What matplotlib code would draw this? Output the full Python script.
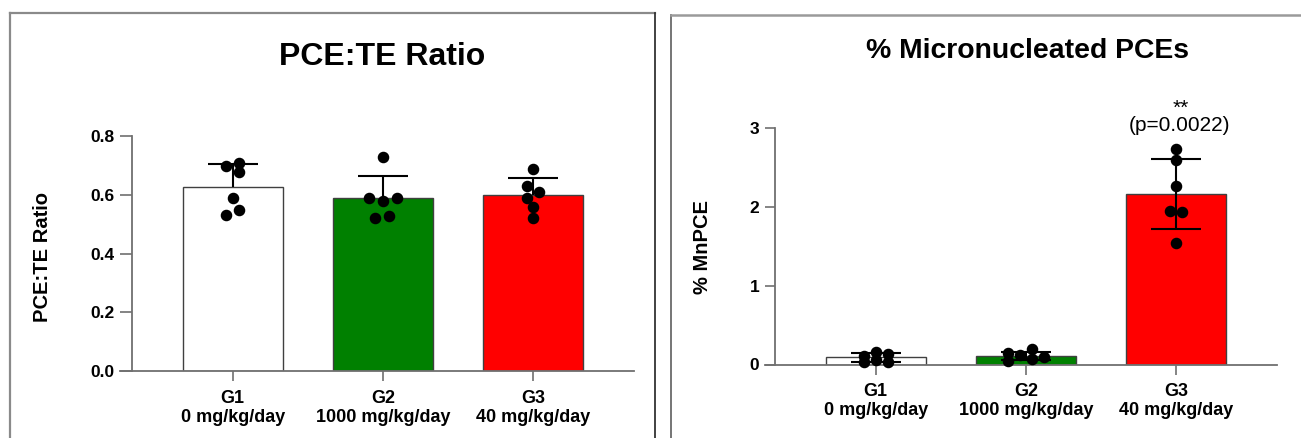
import matplotlib
matplotlib.use('Agg')
import matplotlib.pyplot as plt
import numpy as np
from matplotlib.lines import Line2D

plt.rcParams['font.family'] = ['Liberation Sans', 'DejaVu Sans']

W, H = 1301, 438

GROUPS = ['G1', 'G2', 'G3']
DOSES = ['0 mg/kg/day', '1000 mg/kg/day', '40 mg/kg/day']
BAR_COLORS = ['white', '#008000', '#ff0000']

# PCE:TE ratio, one value per animal
ratio_g1 = [0.698, 0.709, 0.677, 0.589, 0.549, 0.530]
ratio_g2 = [0.729, 0.589, 0.578, 0.589, 0.520, 0.528]
ratio_g3 = [0.689, 0.629, 0.610, 0.589, 0.559, 0.520]
ratio_mean = [0.625, 0.588, 0.598]
ratio_sd = [0.080, 0.076, 0.059]

# % MnPCE, one value per animal
mnpce_g1 = [0.114, 0.033, 0.159, 0.063, 0.130, 0.033]
mnpce_g2 = [0.142, 0.044, 0.116, 0.192, 0.066, 0.091]
mnpce_g3 = [2.727, 2.590, 2.263, 1.951, 1.934, 1.534]
mnpce_mean = [0.089, 0.105, 2.162]
mnpce_sd = [0.052, 0.053, 0.445]

# horizontal scatter of the dots (swarm layout)
ratio_offsets = [[-0.043, 0.043, 0.043, 0.0, 0.043, -0.043],
                 [0.0, -0.09, 0.0, 0.09, -0.05, 0.04],
                 [0.0, -0.045, 0.04, -0.045, 0.0, 0.0]]
mnpce_offsets = [[-0.08, -0.08, 0.0, 0.0, 0.08, 0.08],
                 [-0.117, -0.117, -0.04, 0.038, 0.038, 0.118],
                 [0.0, 0.0, 0.0, -0.04, 0.04, 0.0]]

AXIS_GRAY = '#707070'


def px_rect(left, bottom, width, height):
    return [left / W, 1 - bottom / H, width / W, height / H]


def draw_panel(ax, points, offsets, means, sds, ymax, yticks, ylabels,
               ylabel, label_x, label_y, upper_only, ylen, tick_ext):
    x = np.arange(len(GROUPS))
    ax.bar(x, means, width=0.665, color=BAR_COLORS, edgecolor='#404040',
           linewidth=1.0, zorder=2)
    if upper_only:
        yerr = [np.zeros(len(sds)), sds]
    else:
        yerr = sds
    eb = ax.errorbar(x, means, yerr=yerr, fmt='none', ecolor='black',
                     elinewidth=1.5, capsize=18, capthick=1.5, zorder=3,
                     clip_on=False)
    if upper_only:
        eb[1][0].set_visible(False)
    for i, vals in enumerate(points):
        ax.plot(x[i] + np.array(offsets[i]), vals, 'o', color='black',
                ms=7.3, zorder=4, clip_on=False)

    ax.set_xlim(-0.67, 2.67)
    ax.set_ylim(0, ymax)
    for s in ['top', 'right']:
        ax.spines[s].set_visible(False)
    for s in ['left', 'bottom']:
        ax.spines[s].set_color(AXIS_GRAY)
        ax.spines[s].set_linewidth(1.3)
    ax.spines['bottom'].set_bounds(-0.67 - tick_ext, 2.67)

    ax.set_yticks(yticks, ylabels, fontweight='bold', fontsize=12.5)
    ax.set_xticks(x, [f'{g}\n{d}' for g, d in zip(GROUPS, DOSES)],
                  fontweight='bold', fontsize=13, linespacing=1.15)
    ax.tick_params(axis='y', length=ylen, width=1.2, color=AXIS_GRAY, pad=4)
    ax.tick_params(axis='x', length=7.5, width=1.2, color=AXIS_GRAY, pad=6)

    ax.set_ylabel(ylabel, fontweight='bold', fontsize=14.5, va='center')
    ax.yaxis.set_label_coords(label_x, label_y)


fig = plt.figure(figsize=(W / 100, H / 100), dpi=100)

ax1 = fig.add_axes(px_rect(132, 371, 502, 235))
draw_panel(ax1, [ratio_g1, ratio_g2, ratio_g3], ratio_offsets,
           ratio_mean, ratio_sd, 0.8, [0.0, 0.2, 0.4, 0.6, 0.8],
           ['0.0', '0.2', '0.4', '0.6', '0.8'], 'PCE:TE Ratio',
           -0.179, 0.486, True, 8.4, 0.08)

ax2 = fig.add_axes(px_rect(775, 364.5, 502, 236.8))
draw_panel(ax2, [mnpce_g1, mnpce_g2, mnpce_g3], mnpce_offsets,
           mnpce_mean, mnpce_sd, 3, [0, 1, 2, 3], ['0', '1', '2', '3'],
           '% MnPCE', -0.145, 0.497, False, 7.2, 0.067)

ax2.text(2.02, 3.03, '(p=0.0022)', ha='center', va='center', fontsize=15)
ax2.text(2.03, 3.13, '**', ha='center', va='bottom', fontsize=15)

fig.text(382 / W, 1 - 57 / H, 'PCE:TE Ratio', ha='center', va='center',
         fontsize=23, fontweight='bold')
fig.text(1027 / W, 1 - 51 / H, '% Micronucleated PCEs', ha='center',
         va='center', fontsize=20.4, fontweight='bold')

# panel frames
def frame_line(xs, ys, color, lw):
    fig.add_artist(Line2D([v / W for v in xs], [1 - v / H for v in ys],
                          color=color, lw=lw))

frame_line([10, 10], [440, 13], '#8a8a8a', 1.6)
frame_line([10, 655], [13, 13], '#8a8a8a', 1.6)
frame_line([655, 655], [13, 440], '#333333', 1.3)
frame_line([671, 671], [440, 15], '#6a6a6a', 1.3)
frame_line([671, 1305], [15, 15], '#9a9a9a', 1.8)

fig.savefig('out.png', dpi=100)
